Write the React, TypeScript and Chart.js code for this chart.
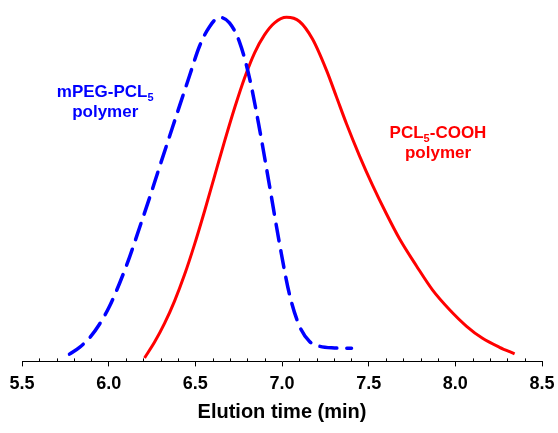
import React, { useEffect, useRef } from "react";
import { Chart, registerables } from "chart.js";

Chart.register(...registerables);

// mPEG-PCL5 polymer (blue dashed)
const blueX = [5.774, 5.832, 5.889, 5.947, 6.005, 6.063, 6.12, 6.178, 6.236, 6.293, 6.351, 6.409, 6.467, 6.524, 6.582, 6.64, 6.697, 6.755, 6.813, 6.87, 6.928, 6.986, 7.043, 7.101, 7.159, 7.216, 7.303, 7.401];
const blueY = [0.021, 0.041, 0.068, 0.108, 0.16, 0.227, 0.302, 0.388, 0.475, 0.564, 0.653, 0.742, 0.83, 0.915, 0.972, 0.999, 0.983, 0.927, 0.822, 0.676, 0.51, 0.341, 0.195, 0.102, 0.058, 0.044, 0.039, 0.038];

// PCL5-COOH polymer (red solid)
const redX = [6.207, 6.265, 6.323, 6.38, 6.438, 6.495, 6.553, 6.611, 6.668, 6.726, 6.784, 6.842, 6.899, 6.957, 7.026, 7.101, 7.176, 7.257, 7.315, 7.372, 7.447, 7.522, 7.603, 7.678, 7.776, 7.869, 7.967, 8.065, 8.157, 8.255, 8.342];
const redY = [0.01, 0.056, 0.111, 0.175, 0.252, 0.339, 0.436, 0.538, 0.638, 0.735, 0.823, 0.896, 0.948, 0.983, 0.999, 0.987, 0.936, 0.845, 0.767, 0.69, 0.597, 0.512, 0.428, 0.356, 0.277, 0.207, 0.15, 0.102, 0.067, 0.041, 0.022];

const xMin = 5.5;
const xMax = 8.5;
const majorStep = 0.5;
const minorStep = 0.1;
const axisTitle = "Elution time (min)";

const blueLabel = { main1: "mPEG-PCL", sub: "5", main2: "", line2: "polymer", x: 5.98, y: 0.767 };
const redLabel = { main1: "PCL", sub: "5", main2: "-COOH", line2: "polymer", x: 7.9, y: 0.65 };

const FONT = 'Arial, "Liberation Sans", sans-serif';

const minorTicksPlugin = {
  id: "minorTicks",
  afterDraw(chart: any) {
    const sx = chart.scales.x;
    const ctx = chart.ctx;
    const bottom = chart.chartArea.bottom;
    ctx.save();
    ctx.strokeStyle = "#000";
    ctx.lineWidth = 1;
    const n = Math.round((xMax - xMin) / minorStep);
    for (let i = 0; i <= n; i++) {
      if (i % 5 === 0) continue;
      const v = xMin + i * minorStep;
      const px = Math.round(sx.getPixelForValue(v)) + 0.5;
      ctx.beginPath();
      ctx.moveTo(px, bottom);
      ctx.lineTo(px, bottom - 3);
      ctx.stroke();
    }
    ctx.restore();
  },
};

function drawLabel(ctx: any, chart: any, lab: any, color: string) {
  const sx = chart.scales.x;
  const sy = chart.scales.y;
  const cx = sx.getPixelForValue(lab.x);
  const by = sy.getPixelForValue(lab.y);
  const mainFont = `bold 17px ${FONT}`;
  const subFont = `bold 11px ${FONT}`;
  ctx.save();
  ctx.fillStyle = color;
  ctx.textBaseline = "alphabetic";
  ctx.textAlign = "left";
  ctx.font = mainFont;
  const w1 = ctx.measureText(lab.main1).width;
  const w3 = ctx.measureText(lab.main2).width;
  ctx.font = subFont;
  const w2 = ctx.measureText(lab.sub).width;
  const total = w1 + w2 + w3;
  let x = cx - total / 2;
  ctx.font = mainFont;
  ctx.fillText(lab.main1, x, by);
  x += w1;
  ctx.font = subFont;
  ctx.fillText(lab.sub, x, by + 4);
  x += w2;
  ctx.font = mainFont;
  ctx.fillText(lab.main2, x, by);
  ctx.textAlign = "center";
  ctx.fillText(lab.line2, cx, by + 20);
  ctx.restore();
}

const labelsPlugin = {
  id: "curveLabels",
  afterDatasetsDraw(chart: any) {
    const ctx = chart.ctx;
    drawLabel(ctx, chart, blueLabel, "#0000FF");
    drawLabel(ctx, chart, redLabel, "#FF0000");
  },
};

export default function App() {
  const ref = useRef<HTMLCanvasElement | null>(null);
  useEffect(() => {
    document.body.style.margin = "0";
    if (!ref.current) return;
    const chart = new Chart(ref.current, {
      type: "line",
      data: {
        datasets: [
          {
            label: "mPEG-PCL5 polymer",
            data: blueX.map((x, i) => ({ x, y: blueY[i] })),
            borderColor: "#0000FF",
            borderWidth: 3.5,
            borderDash: [17, 10],
            borderCapStyle: "round",
            pointRadius: 0,
            cubicInterpolationMode: "monotone",
            fill: false,
            clip: false as any,
          },
          {
            label: "PCL5-COOH polymer",
            data: redX.map((x, i) => ({ x, y: redY[i] })),
            borderColor: "#FF0000",
            borderWidth: 3,
            pointRadius: 0,
            cubicInterpolationMode: "monotone",
            fill: false,
            clip: false as any,
          },
        ],
      },
      options: {
        animation: false,
        responsive: true,
        maintainAspectRatio: false,
        layout: { padding: { left: 22, right: 16, top: 17, bottom: 7 } },
        plugins: { legend: { display: false }, tooltip: { enabled: false } },
        scales: {
          x: {
            type: "linear",
            min: xMin,
            max: xMax,
            afterFit: (s: any) => {
              s.paddingLeft = 0;
              s.paddingRight = 0;
            },
            ticks: {
              stepSize: majorStep,
              autoSkip: false,
              maxRotation: 0,
              color: "#000",
              padding: 7,
              font: { family: FONT, size: 18, weight: "bold" },
              callback: (v: any) => Number(v).toFixed(1),
            },
            grid: {
              drawOnChartArea: false,
              drawTicks: true,
              tickLength: 5,
              color: "#000",
              tickColor: "#000",
              lineWidth: 1,
            },
            border: { display: true, color: "#000", width: 1 },
            title: {
              display: true,
              text: axisTitle,
              color: "#000",
              font: { family: FONT, size: 20, weight: "bold", lineHeight: 1 },
              padding: { top: 0, bottom: 4 },
            },
          },
          y: { display: false, min: 0, max: 1 },
        },
      },
      plugins: [minorTicksPlugin, labelsPlugin],
    });
    return () => chart.destroy();
  }, []);
  return (
    <div style={{ width: 558, height: 433, position: "relative" }}>
      <canvas ref={ref} />
    </div>
  );
}
